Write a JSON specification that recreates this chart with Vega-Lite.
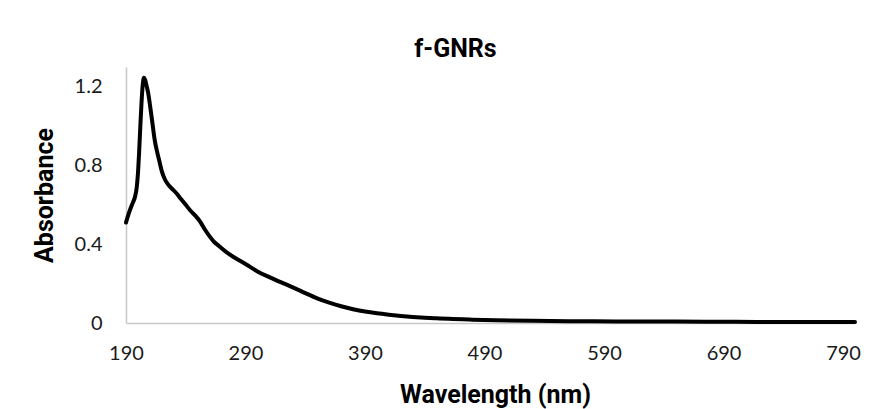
{
  "$schema": "https://vega.github.io/schema/vega-lite/v6.json",
  "width": 729,
  "height": 256,
  "autosize": {"type": "none"},
  "padding": {"left": 126, "top": 67, "right": 28, "bottom": 86},
  "background": "white",
  "config": {"view": {"stroke": null}},
  "title": {
    "text": "f-GNRs",
    "font": "Roboto",
    "fontWeight": "bold",
    "fontSize": 25,
    "color": "#000000",
    "anchor": "middle",
    "baseline": "alphabetic",
    "offset": 5,
    "dx": -35,
    "dy": 20
  },
  "data": {
    "values": [
      {"wavelength": 190, "absorbance": 0.51},
      {"wavelength": 192, "absorbance": 0.55},
      {"wavelength": 194, "absorbance": 0.585},
      {"wavelength": 196, "absorbance": 0.615},
      {"wavelength": 197.5, "absorbance": 0.64},
      {"wavelength": 199, "absorbance": 0.69},
      {"wavelength": 200, "absorbance": 0.76},
      {"wavelength": 201, "absorbance": 0.87},
      {"wavelength": 202, "absorbance": 1.0},
      {"wavelength": 203, "absorbance": 1.12},
      {"wavelength": 204, "absorbance": 1.21},
      {"wavelength": 205, "absorbance": 1.245},
      {"wavelength": 206, "absorbance": 1.235},
      {"wavelength": 207, "absorbance": 1.21},
      {"wavelength": 208.5, "absorbance": 1.17},
      {"wavelength": 210, "absorbance": 1.11},
      {"wavelength": 212, "absorbance": 1.02},
      {"wavelength": 214, "absorbance": 0.93},
      {"wavelength": 216, "absorbance": 0.87},
      {"wavelength": 218, "absorbance": 0.82},
      {"wavelength": 220, "absorbance": 0.77},
      {"wavelength": 222.5, "absorbance": 0.73},
      {"wavelength": 225, "absorbance": 0.705},
      {"wavelength": 228, "absorbance": 0.685},
      {"wavelength": 232, "absorbance": 0.66},
      {"wavelength": 236, "absorbance": 0.63},
      {"wavelength": 240, "absorbance": 0.6},
      {"wavelength": 244, "absorbance": 0.57},
      {"wavelength": 248, "absorbance": 0.545},
      {"wavelength": 252, "absorbance": 0.515},
      {"wavelength": 256, "absorbance": 0.475},
      {"wavelength": 260, "absorbance": 0.44},
      {"wavelength": 264, "absorbance": 0.41},
      {"wavelength": 268, "absorbance": 0.39},
      {"wavelength": 274, "absorbance": 0.36},
      {"wavelength": 280, "absorbance": 0.335},
      {"wavelength": 290, "absorbance": 0.3},
      {"wavelength": 300, "absorbance": 0.262},
      {"wavelength": 310, "absorbance": 0.233},
      {"wavelength": 320, "absorbance": 0.206},
      {"wavelength": 330, "absorbance": 0.18},
      {"wavelength": 340, "absorbance": 0.152},
      {"wavelength": 350, "absorbance": 0.125},
      {"wavelength": 360, "absorbance": 0.103},
      {"wavelength": 370, "absorbance": 0.085},
      {"wavelength": 380, "absorbance": 0.07},
      {"wavelength": 390, "absorbance": 0.058},
      {"wavelength": 400, "absorbance": 0.049},
      {"wavelength": 410, "absorbance": 0.042},
      {"wavelength": 420, "absorbance": 0.036},
      {"wavelength": 430, "absorbance": 0.031},
      {"wavelength": 440, "absorbance": 0.027},
      {"wavelength": 450, "absorbance": 0.024},
      {"wavelength": 460, "absorbance": 0.021},
      {"wavelength": 480, "absorbance": 0.017},
      {"wavelength": 500, "absorbance": 0.014},
      {"wavelength": 530, "absorbance": 0.011},
      {"wavelength": 560, "absorbance": 0.009},
      {"wavelength": 600, "absorbance": 0.008},
      {"wavelength": 650, "absorbance": 0.007},
      {"wavelength": 700, "absorbance": 0.006},
      {"wavelength": 750, "absorbance": 0.005},
      {"wavelength": 800, "absorbance": 0.005}
    ]
  },
  "mark": {
    "type": "line",
    "color": "#000000",
    "strokeWidth": 4,
    "strokeCap": "round",
    "strokeJoin": "round",
    "interpolate": "monotone",
    "clip": false
  },
  "encoding": {
    "x": {
      "field": "wavelength",
      "type": "quantitative",
      "scale": {"domain": [190, 800], "nice": false, "zero": false},
      "axis": {
        "title": "Wavelength (nm)",
        "values": [190, 290, 390, 490, 590, 690, 790],
        "grid": false,
        "ticks": false,
        "domain": true,
        "domainColor": "#c8c8c8",
        "domainWidth": 1.5,
        "labelFont": "Lato",
        "labelFontSize": 20,
        "labelColor": "#1a1a1a",
        "labelPadding": 20,
        "labelFlush": false,
        "titleFont": "Roboto",
        "titleFontWeight": "bold",
        "titleFontSize": 25,
        "titleColor": "#000000",
        "titlePadding": 19,
        "titleX": 369
      }
    },
    "y": {
      "field": "absorbance",
      "type": "quantitative",
      "scale": {"domain": [0, 1.3], "nice": false},
      "axis": {
        "title": "Absorbance",
        "values": [0, 0.4, 0.8, 1.2],
        "labelExpr": "datum.value == 0 ? '0' : format(datum.value, '.1f')",
        "grid": false,
        "ticks": false,
        "domain": true,
        "domainColor": "#c8c8c8",
        "domainWidth": 1.5,
        "labelFont": "Lato",
        "labelFontSize": 20,
        "labelColor": "#1a1a1a",
        "labelPadding": 24,
        "titleFont": "Roboto",
        "titleFontWeight": "bold",
        "titleFontSize": 25,
        "titleColor": "#000000",
        "titlePadding": 17
      }
    }
  }
}
